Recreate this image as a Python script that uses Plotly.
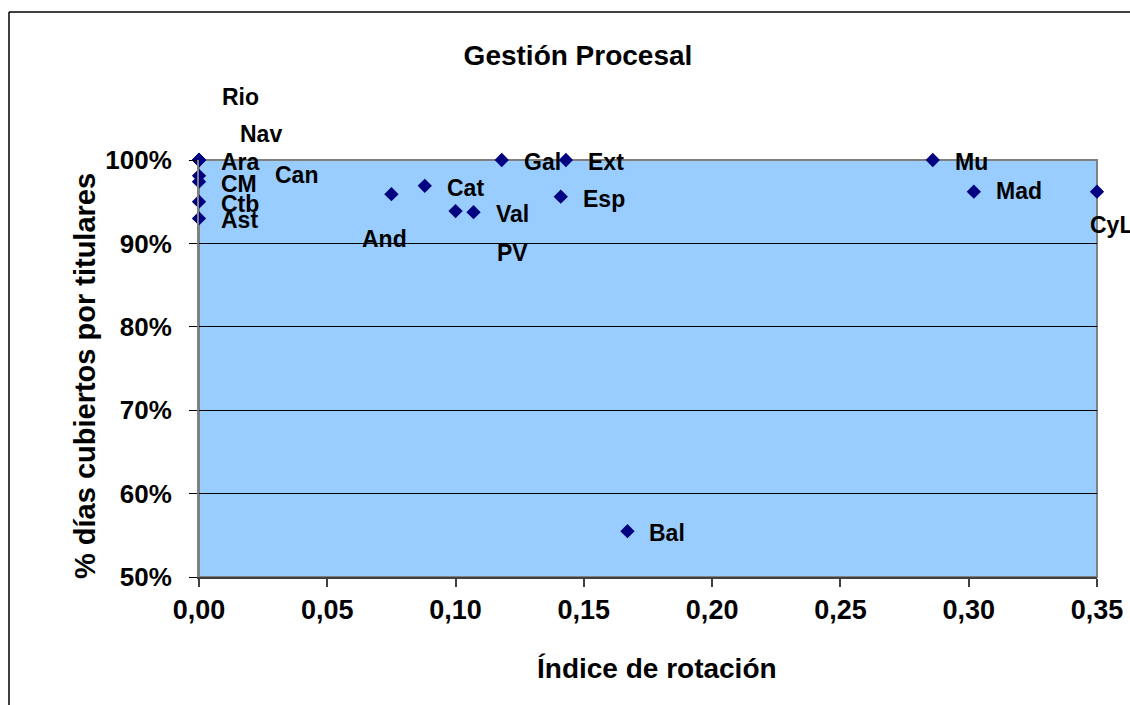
import plotly.graph_objects as go

# Data
labels = ["Rio", "Nav", "Ara", "CM", "Can", "Ctb", "Ast", "And", "Cat", "Gal",
          "Ext", "Esp", "Val", "PV", "Mu", "Mad", "CyL", "Bal"]
rotacion = [0.0, 0.0, 0.0, 0.0, 0.0, 0.0, 0.0, 0.075, 0.088, 0.118,
            0.143, 0.141, 0.107, 0.100, 0.286, 0.302, 0.350, 0.167]
dias_cubiertos = [1.00, 1.00, 1.00, 0.974, 0.981, 0.950, 0.930, 0.959, 0.969, 1.00,
                  1.00, 0.956, 0.9375, 0.9387, 1.00, 0.962, 0.962, 0.555]
x_ticks = [0.0, 0.05, 0.10, 0.15, 0.20, 0.25, 0.30, 0.35]
y_ticks = [0.5, 0.6, 0.7, 0.8, 0.9, 1.0]

# label offsets in pixels (left edge shift, vertical shift)
label_dx = {"Rio": 21, "Nav": 39, "Can": 74, "And": -31, "PV": 39, "CyL": -9}
label_dy = {"Rio": 63, "Nav": 26, "Can": 1, "And": -45, "PV": -42, "CyL": -33,
            "Mad": 1}

FONT = "Liberation Sans, Arial, sans-serif"

fig = go.Figure()
fig.add_trace(go.Scatter(
    x=rotacion, y=dias_cubiertos, mode="markers",
    marker=dict(symbol="diamond", size=11, color="#000080"),
    cliponaxis=False, showlegend=False, hoverinfo="skip",
))

W, H = 1130, 705
L, R, T, B = 199, 33, 160, 128
pw, ph = W - L - R, H - T - B

for lab, xv, yv in zip(labels, rotacion, dias_cubiertos):
    fig.add_annotation(
        x=xv, y=yv, xref="x", yref="y", text=lab, showarrow=False,
        xanchor="left", yanchor="middle",
        xshift=label_dx.get(lab, 20), yshift=label_dy.get(lab, -2),
        font=dict(family=FONT, size=23, color="black", weight="bold"),
    )

# outer chart frame (left & top edges)
def px2paper_x(p):
    return (p - L) / pw

def py2paper_y(p):
    return (H - B - p) / ph

fig.add_shape(type="line", xref="paper", yref="paper",
              x0=px2paper_x(9), x1=px2paper_x(9), y0=py2paper_y(12), y1=py2paper_y(710),
              line=dict(color="black", width=1.5))
fig.add_shape(type="line", xref="paper", yref="paper",
              x0=px2paper_x(9), x1=px2paper_x(1140), y0=py2paper_y(12), y1=py2paper_y(12),
              line=dict(color="black", width=1.5))
# plot border (top/right gray)
fig.add_shape(type="rect", xref="paper", yref="paper", x0=0, x1=1, y0=0, y1=1,
              line=dict(color="#808080", width=2), layer="below")

# axis titles, placed like the original
fig.add_annotation(
    xref="paper", yref="paper", x=px2paper_x(85), y=py2paper_y(376),
    text="% días cubiertos por titulares", textangle=-90, showarrow=False,
    xanchor="center", yanchor="middle",
    font=dict(family=FONT, size=29, color="black", weight="bold"),
)
fig.add_annotation(
    xref="paper", yref="paper", x=px2paper_x(657), y=py2paper_y(668),
    text="Índice de rotación", showarrow=False,
    xanchor="center", yanchor="middle",
    font=dict(family=FONT, size=28, color="black", weight="bold"),
)

fig.update_layout(
    width=W, height=H, autosize=False,
    margin=dict(l=L, r=R, t=T, b=B, autoexpand=False),
    paper_bgcolor="white", plot_bgcolor="#99CCFF",
    separators=",.",
    font=dict(family=FONT, color="black"),
    title=dict(text="Gestión Procesal", xref="container", x=578 / W, xanchor="center",
               yref="container", y=1 - 55 / H, yanchor="middle",
               font=dict(family=FONT, size=28, color="black", weight="bold")),
    xaxis=dict(
        range=[0, 0.35], tickvals=x_ticks, tickformat=".2f", automargin=False,
        showgrid=False, zeroline=False,
        showline=True, linecolor="#404040", linewidth=2,
        ticks="outside", ticklen=8, tickcolor="#404040", tickwidth=1.5,
        tickfont=dict(family=FONT, size=27, color="black", weight="bold"),
        ticklabelstandoff=0,
    ),
    yaxis=dict(
        range=[0.5, 1.0], tickvals=y_ticks, tickformat=".0%", automargin=False,
        showgrid=True, gridcolor="black", gridwidth=1,
        zeroline=False,
        showline=True, linecolor="#808080", linewidth=2,
        ticks="outside", ticklen=8, tickcolor="black", tickwidth=1,
        tickfont=dict(family=FONT, size=26, color="black", weight="bold"),
        ticklabelstandoff=12,
    ),
)

fig.write_html("out.html",
               config={"displayModeBar": False, "responsive": False},
               post_script="document.body.style.margin='0';document.body.style.overflow='hidden';")
